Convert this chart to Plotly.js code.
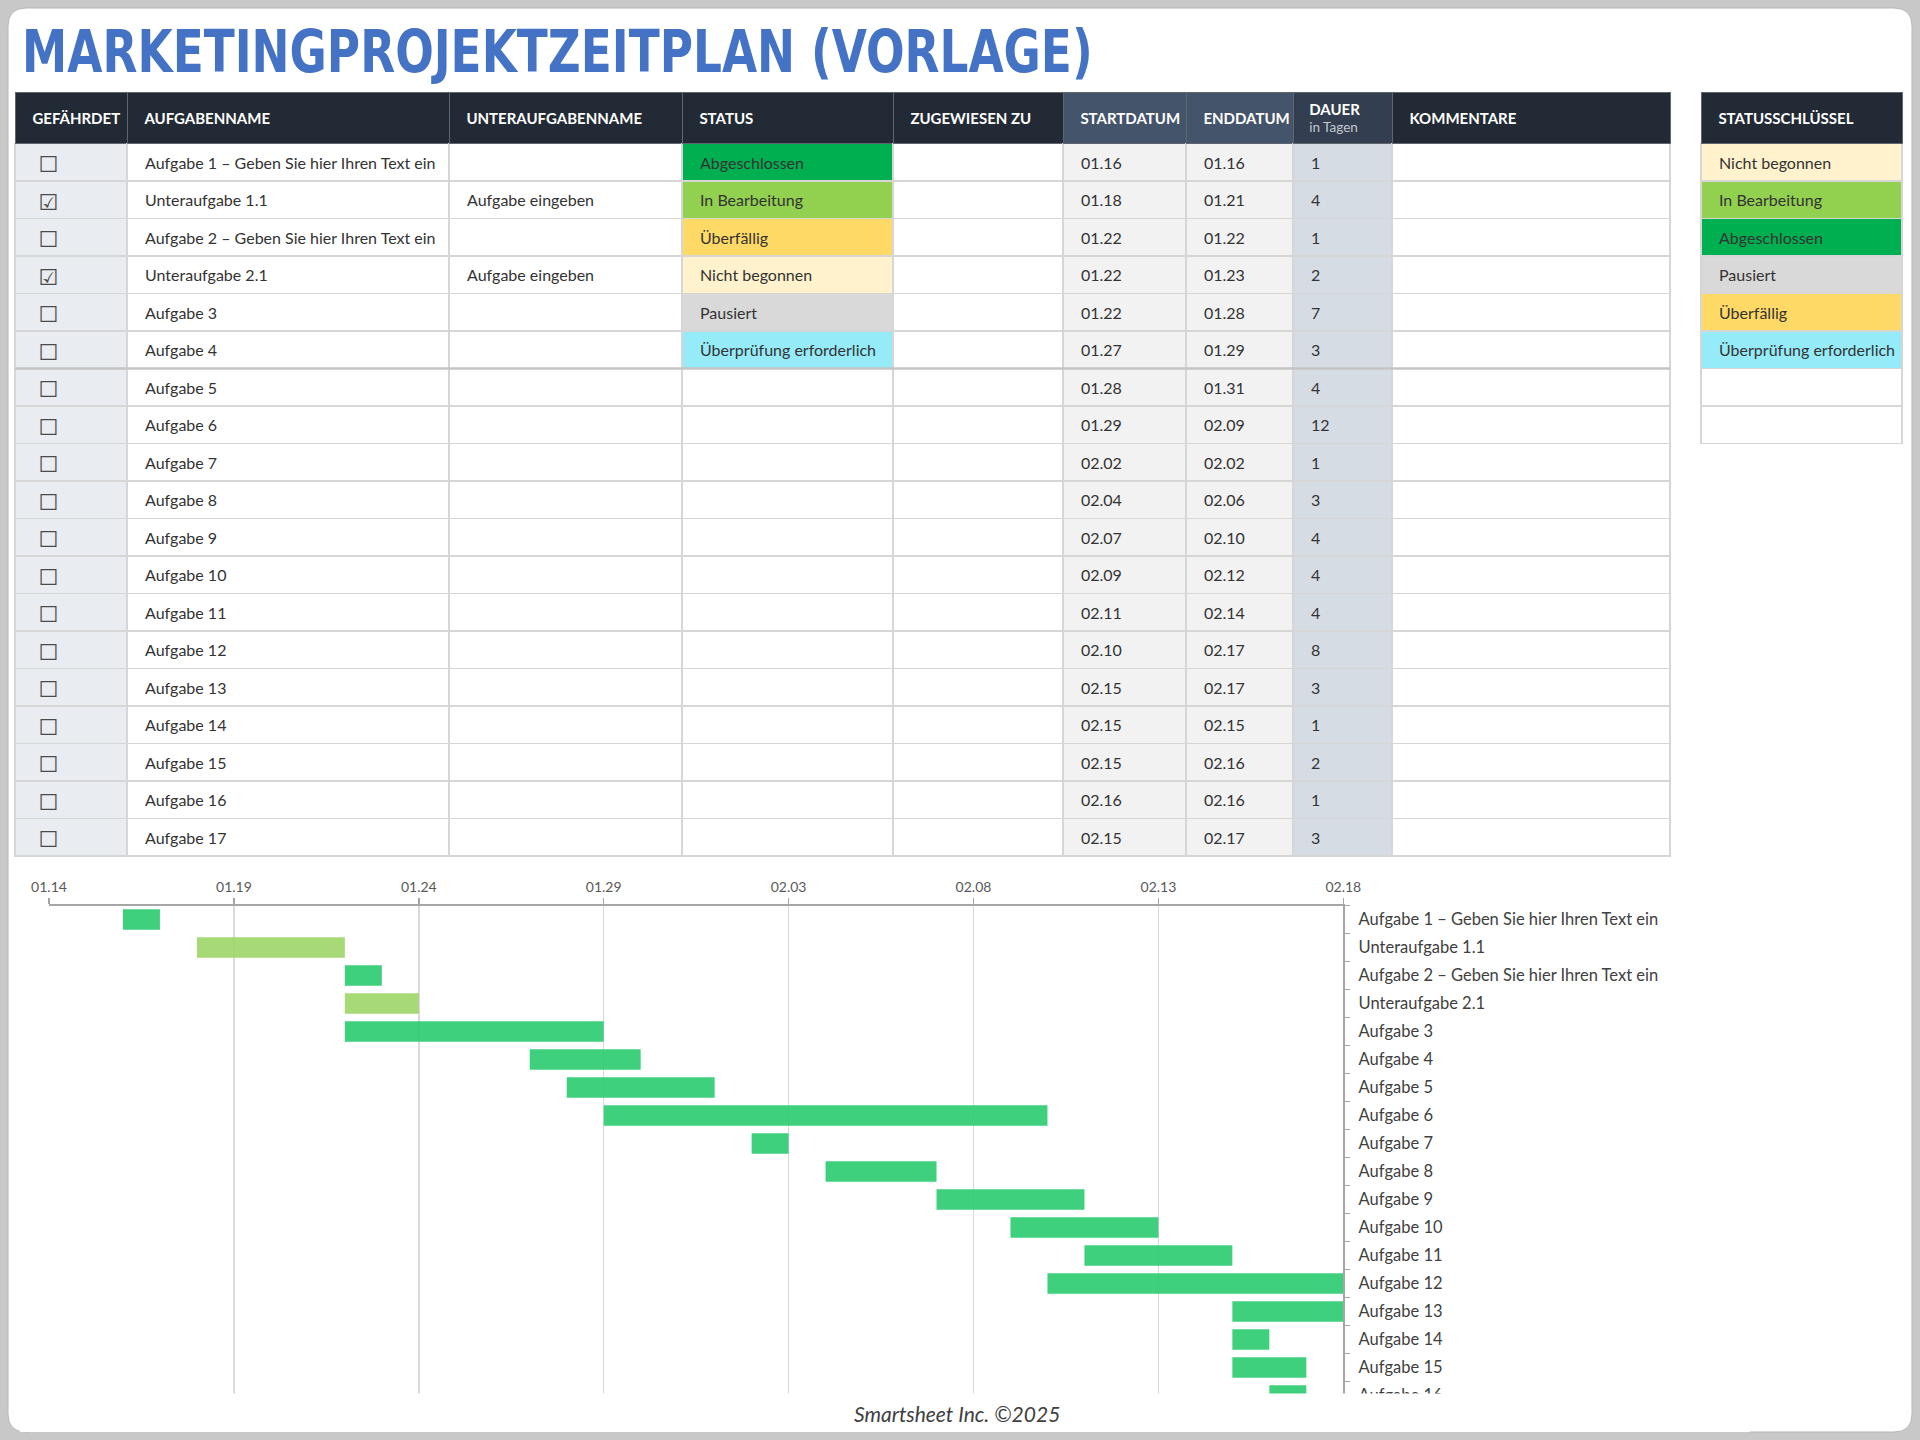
<!DOCTYPE html>
<html><head><meta charset="utf-8">
<script src="https://cdn.plot.ly/plotly-3.0.1.min.js"></script>
<style>html,body{margin:0;padding:0;background:#c8c8c8;} #chart{width:1920px;height:1440px;}</style>
</head><body><div id="chart"></div>
<script>
// ---------------- DATA ----------------
const titleText = "MARKETINGPROJEKTZEITPLAN (VORLAGE)";
const headers = ["GEFÄHRDET","AUFGABENNAME","UNTERAUFGABENNAME","STATUS","ZUGEWIESEN ZU","STARTDATUM","ENDDATUM","DAUER","KOMMENTARE"];
const durationSubHeader = "in Tagen";
const taskNames = ["Aufgabe 1 – Geben Sie hier Ihren Text ein","Unteraufgabe 1.1","Aufgabe 2 – Geben Sie hier Ihren Text ein","Unteraufgabe 2.1","Aufgabe 3","Aufgabe 4","Aufgabe 5","Aufgabe 6","Aufgabe 7","Aufgabe 8","Aufgabe 9","Aufgabe 10","Aufgabe 11","Aufgabe 12","Aufgabe 13","Aufgabe 14","Aufgabe 15","Aufgabe 16","Aufgabe 17"];
const subtaskNames = ["","Aufgabe eingeben","","Aufgabe eingeben","","","","","","","","","","","","","","",""];
const atRisk = [false,true,false,true,false,false,false,false,false,false,false,false,false,false,false,false,false,false,false];
const statuses = ["Abgeschlossen","In Bearbeitung","Überfällig","Nicht begonnen","Pausiert","Überprüfung erforderlich","","","","","","","","","","","","",""];
const assignedTo = ["","","","","","","","","","","","","","","","","","",""];
const startDates = ["01.16","01.18","01.22","01.22","01.22","01.27","01.28","01.29","02.02","02.04","02.07","02.09","02.11","02.10","02.15","02.15","02.15","02.16","02.15"];
const endDates = ["01.16","01.21","01.22","01.23","01.28","01.29","01.31","02.09","02.02","02.06","02.10","02.12","02.14","02.17","02.17","02.15","02.16","02.16","02.17"];
const durationDays = [1,4,1,2,7,3,4,12,1,3,4,4,4,8,3,1,2,1,3];
const comments = ["","","","","","","","","","","","","","","","","","",""];
const keyHeader = "STATUSSCHLÜSSEL";
const keyStatuses = ["Nicht begonnen","In Bearbeitung","Abgeschlossen","Pausiert","Überfällig","Überprüfung erforderlich","",""];
const year = "2025";
const axisStart = "01.14";
const axisEnd = "02.18";
const tickStepDays = 5;
const footerText = "Smartsheet Inc. ©2025";

// ---------------- STYLE ----------------
const W = 1920, H = 1440;
const px = x => x / W, py = y => 1 - y / H;
const FONT = "Lato, 'Open Sans', sans-serif";
const statusColors = {"Abgeschlossen":"#00b050","In Bearbeitung":"#92d050","Überfällig":"#ffd966","Nicht begonnen":"#fff2cc","Pausiert":"#d9d9d9","Überprüfung erforderlich":"#95ebf8","":"#ffffff"};
const PAD = "\u2002\u2009";
const NB = s => String(s).replace(/ /g, "\u00a0");
const n = taskNames.length;
const colFill = (c) => taskNames.map(() => c);
const CHECK_MARK = "\u2002\u2009";

const toISO = s => year + "-" + s.slice(0,2) + "-" + s.slice(3,5);
const DAY = 86400000;

// ---------------- TABLE ----------------
const headerVals = headers.map(h => {
  if (h === "DAUER") return PAD + "<span style='font-size:15px'><b>DAUER</b></span><br>" + PAD + "<span style='font-size:13.5px;color:#c3c8d0'>" + durationSubHeader + "</span>";
  return PAD + "<b>" + h + "</b>";
});
const headerFill = ["#222a35","#222a35","#222a35","#222a35","#222a35","#44546a","#44546a","#333f50","#222a35"];

const cellCols = [
  atRisk.map(v => CHECK_MARK + (v ? "☑" : "☐")),
  taskNames.map(t => PAD + NB(t)),
  subtaskNames.map(t => PAD + NB(t)),
  statuses.map(t => PAD + NB(t)),
  assignedTo.map(t => PAD + t),
  startDates.map(t => PAD + t),
  endDates.map(t => PAD + t),
  durationDays.map(t => PAD + t),
  comments.map(t => PAD + t)
];
const cellFill = [
  colFill("#e9ecf0"), colFill("#ffffff"), colFill("#ffffff"),
  statuses.map(s => statusColors[s]),
  colFill("#ffffff"), colFill("#f2f2f2"), colFill("#f2f2f2"), colFill("#d6dce4"), colFill("#ffffff")
];

const mainTable = {
  type: "table",
  domain: {x: [px(15), px(1670)], y: [py(860), py(92)]},
  columnwidth: [112,322,233,211,170,123,107,99,278],
  header: {
    values: headerVals, align: "left", height: 51.5,
    fill: {color: headerFill}, line: {color: "#5f6670", width: 1},
    font: {family: FONT, size: [15,15,15,15,15,15,15,13.2,15], color: "#ffffff"}
  },
  cells: {
    values: cellCols, align: "left", height: 37.5,
    fill: {color: cellFill}, line: {color: "#d6d6d6", width: 1.5},
    font: {family: ["DejaVu Sans", FONT, FONT, FONT, FONT, FONT, FONT, FONT, FONT],
           size: [22,16,16,16,16,16,16,16,16], color: ["#4a4a4a","#333333","#333333","#333333","#333333","#333333","#333333","#333333","#333333"]}
  }
};

const keyTable = {
  type: "table",
  domain: {x: [px(1701), px(1903)], y: [py(446), py(92)]},
  columnwidth: [202],
  header: {
    values: [PAD + "<b>" + keyHeader + "</b>"], align: "left", height: 51.5,
    fill: {color: "#222a35"}, line: {color: "#5f6670", width: 1},
    font: {family: FONT, size: 15, color: "#ffffff"}
  },
  cells: {
    values: [keyStatuses.map(t => PAD + NB(t))], align: "left", height: 37.5,
    fill: {color: [keyStatuses.map(s => statusColors[s])]}, line: {color: "#d6d6d6", width: 1.5},
    font: {family: FONT, size: 16, color: "#333333"}
  }
};

// ---------------- GANTT ----------------
const gantt = {
  type: "bar", orientation: "h",
  y: taskNames,
  x: durationDays.map(d => d * DAY),
  base: startDates.map(toISO),
  marker: {color: taskNames.map(t => t.startsWith("Unteraufgabe") ? "rgba(160,214,106,0.92)" : "rgba(46,204,113,0.92)"),
           line: {width: 0}},
  width: 0.74,
  xaxis: "x", yaxis: "y",
  hoverinfo: "skip", showlegend: false
};

const frame = (x0, y0, x1, y1, r) => {
  const X = v => px(v), Y = v => py(v);
  return `M ${X(x0+r)} ${Y(y0)} L ${X(x1-r)} ${Y(y0)} Q ${X(x1)} ${Y(y0)} ${X(x1)} ${Y(y0+r)} L ${X(x1)} ${Y(y1-r)} Q ${X(x1)} ${Y(y1)} ${X(x1-r)} ${Y(y1)} L ${X(x0+r)} ${Y(y1)} Q ${X(x0)} ${Y(y1)} ${X(x0)} ${Y(y1-r)} L ${X(x0)} ${Y(y0+r)} Q ${X(x0)} ${Y(y0)} ${X(x0+r)} ${Y(y0)} Z`;
};

const layout = {
  width: W, height: H, autosize: false,
  margin: {l: 0, r: 0, t: 0, b: 0, pad: 0},
  paper_bgcolor: "#c8c8c8", plot_bgcolor: "rgba(0,0,0,0)",
  font: {family: FONT, color: "#333333"},
  showlegend: false,
  xaxis: {
    type: "date", side: "top", domain: [px(49), px(1343.3)], anchor: "y",
    range: [toISO(axisStart), toISO(axisEnd)],
    tick0: toISO(axisStart), dtick: tickStepDays * DAY, tickformat: "%m.%d",
    showgrid: true, gridcolor: "#d9d9d9", gridwidth: 1.5,
    showline: true, linecolor: "#a6a6a6", linewidth: 2,
    ticks: "outside", ticklen: 6, tickcolor: "#a6a6a6", tickwidth: 1.5,
    tickfont: {family: FONT, size: 14, color: "#595959"}, zeroline: false, fixedrange: true
  },
  yaxis: {
    type: "category", categoryorder: "array", categoryarray: taskNames,
    range: [n - 0.5, -0.5], side: "right", anchor: "x",
    domain: [py(1437.5), py(905.5)],
    showgrid: false, showline: true, linecolor: "#a6a6a6", linewidth: 2,
    ticks: "outside", tickson: "boundaries", ticklen: 5, tickcolor: "#a6a6a6", tickwidth: 1,
    ticklabelstandoff: 10,
    tickfont: {family: FONT, size: 16.5, color: "#404040"}, zeroline: false, fixedrange: true
  },
  shapes: [
    {type: "path", xref: "paper", yref: "paper", layer: "below", path: frame(8, 8, 1912, 1432, 18),
     fillcolor: "#ffffff", line: {color: "#b5b5b5", width: 1}},
    {type: "rect", xref: "paper", yref: "paper", layer: "above", x0: px(20), x1: px(1750), y0: py(1432), y1: py(1393.5),
     fillcolor: "#ffffff", line: {width: 0}},
    {type: "rect", xref: "paper", yref: "paper", layer: "above", x0: px(30), x1: px(1750), y0: py(1440), y1: py(1432),
     fillcolor: "#c8c8c8", line: {width: 0}},
    {type: "line", xref: "paper", yref: "paper", layer: "above", x0: px(15), x1: px(1670), y0: py(368.5), y1: py(368.5),
     line: {color: "#c4c4c4", width: 2.5}}
  ],
  annotations: [
    {text: "<b>" + titleText + "</b>", xref: "paper", yref: "paper", x: px(20), y: py(52),
     xanchor: "left", yanchor: "middle", showarrow: false,
     font: {family: "'Liberation Sans Narrow', 'DejaVu Sans Condensed', 'Roboto', sans-serif", size: 50.5, color: "#4472c4"}},
    {text: footerText, xref: "paper", yref: "paper", x: px(957), y: py(1413),
     xanchor: "center", yanchor: "middle", showarrow: false,
     font: {family: FONT, size: 21, color: "#404040", style: "italic"}}
  ]
};

Plotly.newPlot("chart", [gantt, mainTable, keyTable], layout, {displayModeBar: false, staticPlot: true}).then(gd => {
  // centre each table text vertically in its cell
  gd.querySelectorAll("g.column-cell").forEach(cell => {
    const r = cell.querySelector("rect.cell-rect");
    const t = cell.querySelector("text.cell-text");
    if (!r || !t || !t.textContent.trim()) return;
    const rb = r.getBoundingClientRect(), tb = t.getBoundingClientRect();
    let dy = (rb.top + rb.height / 2) - (tb.top + tb.height / 2);
    if (/[☐☑]/.test(t.textContent)) dy += 2.5;
    t.setAttribute("transform", "translate(0," + dy.toFixed(2) + ")");
  });
  // taller, narrower title lettering like the original
  const title = gd.querySelector("g.annotation text.annotation-text");
  if (title) {
    const b = title.getBBox();
    const cy = b.y + b.height / 2;
    const prev = title.getAttribute("transform") || "";
    title.setAttribute("transform", prev + " translate(0," + cy + ") scale(1,1.15) translate(0," + (-cy) + ")");
  }
});
</script>
</body></html>
